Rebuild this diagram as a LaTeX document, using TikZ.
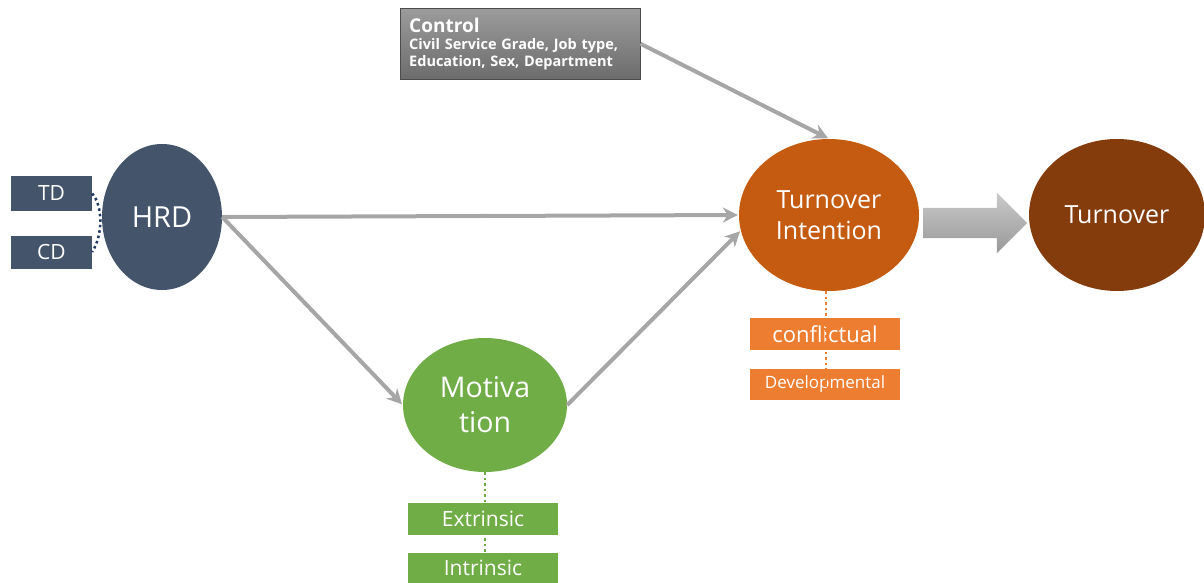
\documentclass[tikz,border=0pt]{standalone}
\usepackage{fontspec}
\setmainfont{Open Sans}
\usetikzlibrary{arrows.meta,shapes.geometric,shapes.arrows}

\definecolor{hrdblue}{HTML}{44546A}
\definecolor{dotnavy}{HTML}{1F3864}
\definecolor{tiorange}{HTML}{C55A11}
\definecolor{turnbrown}{HTML}{843C0C}
\definecolor{motivgreen}{HTML}{70AD47}
\definecolor{tagorange}{HTML}{ED7D31}
\definecolor{linkgray}{HTML}{A6A6A6}
\definecolor{ctrltop}{HTML}{9C9C9C}
\definecolor{ctrlbot}{HTML}{6C6C6C}
\definecolor{arrtop}{HTML}{CACACA}
\definecolor{arrbot}{HTML}{989898}

\begin{document}
\begin{tikzpicture}[x=1pt, y=-1pt, >={Stealth[length=15pt,width=15pt]},
	oval/.style={ellipse, inner sep=0pt, text=white, align=center},
	tag/.style={rectangle, inner sep=0pt, minimum width=150pt, minimum height=32pt, text=white},
	link/.style={->, line width=4pt, draw=linkgray, shorten >=1pt},
	dots/.style={line width=2.5pt, dash pattern=on 2.5pt off 3pt}]
	\useasboundingbox (0, 0) rectangle (1204, 583);

	\node[tag, fill=hrdblue, minimum width=81pt, minimum height=35pt, font=\fontsize{21}{24}\selectfont] (td) at (51.5, 193.5) {TD};
	\node[tag, fill=hrdblue, minimum width=81pt, minimum height=33pt, font=\fontsize{21}{24}\selectfont] (cd) at (51.5, 252) {CD};
	\node[oval, fill=hrdblue, minimum width=120pt, minimum height=146pt, font=\fontsize{29}{32}\selectfont] (hrd) at (162, 217) {HRD};
	\draw[dots, dotnavy] (td.east) .. controls (103, 206) and (103, 235) .. (cd.east);

	\node[rectangle, anchor=north west, draw=black!70, top color=ctrltop, bottom color=ctrlbot, text=white, align=left,
		text width=222pt, inner xsep=9pt, inner ysep=1pt, minimum height=71pt, font=\bfseries\fontsize{14.5}{17}\selectfont] (ctrl) at (400, 8)
		{{\fontsize{19}{19}\selectfont Control}\\Civil Service Grade, Job type,\\Education, Sex, Department};

	\node[oval, fill=motivgreen, minimum width=164pt, minimum height=134pt, font=\fontsize{28.5}{35}\selectfont] (motiv) at (485, 405) {Motiva\\tion};
	\node[tag, fill=motivgreen, font=\fontsize{21}{24}\selectfont] (ext) at (483, 519) {Extrinsic};
	\node[tag, fill=motivgreen, minimum height=30pt, font=\fontsize{21}{24}\selectfont] (intr) at (483, 568) {Intrinsic};
	\draw[dots, motivgreen] (motiv.south) -- (motiv.south |- intr.center);

	\node[oval, fill=tiorange, minimum width=180pt, minimum height=152pt, font=\fontsize{25}{31}\selectfont] (ti) at (829, 215) {Turnover\\Intention};
	\node[tag, fill=tagorange, font=\fontsize{22}{24}\selectfont] (conf) at (825, 334) {conflictual};
	\node[tag, fill=tagorange, minimum height=31pt, font=\fontsize{17}{20}\selectfont] (dev) at (825, 384.5) {Developmental};
	\draw[dots, tagorange] (826, 291) -- (826, 398);

	\node[oval, fill=turnbrown, minimum width=176pt, minimum height=152pt, font=\fontsize{25}{28}\selectfont] (turn) at (1117, 215) {Turnover};
	\node[single arrow, single arrow head extend=15pt, inner xsep=0pt, inner ysep=15pt, minimum height=104pt, outer sep=0pt,
		anchor=tail, top color=arrtop, bottom color=arrbot] (blockarrow) at (923, 223) {};

	\draw[link] (hrd.east) -- (ti.west);
	\draw[link] (hrd.east) -- (motiv.west);
	\draw[link] (motiv.east) -- (ti.190);
	\draw[link] (ctrl.east) -- (ti.north);
\end{tikzpicture}
\end{document}
